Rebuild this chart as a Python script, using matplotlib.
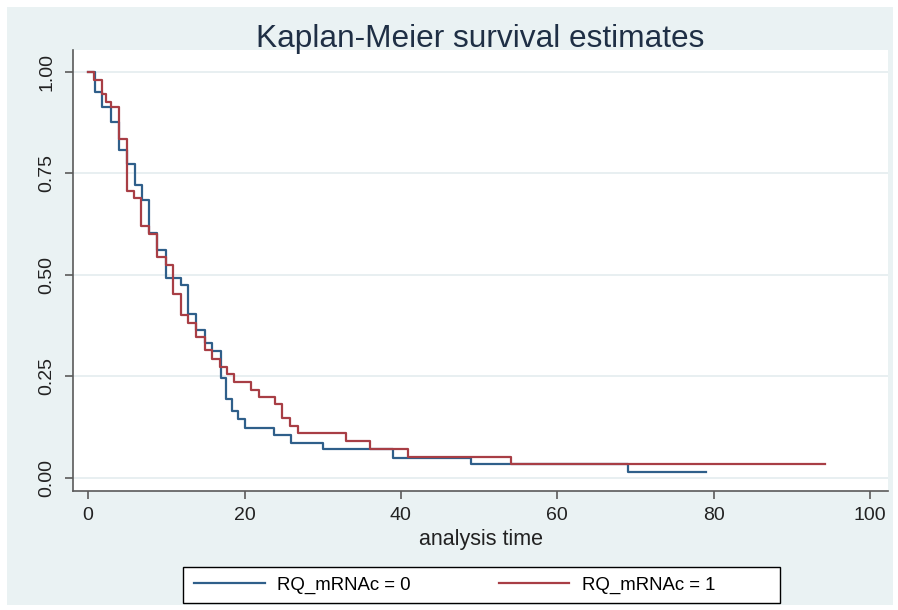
import matplotlib.pyplot as plt
from matplotlib.patches import Rectangle

# Kaplan-Meier step data
time_0 = [0, 0.9, 1.8, 2.9, 3.9, 5.0, 6.0, 6.9, 7.8, 8.8, 9.9, 11.9, 12.8, 13.8, 14.9,
          15.9, 17.0, 17.6, 18.4, 19.2, 20.0, 23.8, 26.0, 30.0, 39.0, 49.0, 69.0, 79.0]
surv_0 = [1.0, 0.949, 0.914, 0.875, 0.807, 0.773, 0.720, 0.684, 0.604, 0.561, 0.493, 0.476,
          0.403, 0.364, 0.333, 0.313, 0.247, 0.194, 0.165, 0.145, 0.124, 0.106, 0.087,
          0.071, 0.050, 0.034, 0.016, 0.016]

time_1 = [0, 0.8, 1.8, 2.3, 2.9, 3.9, 5.0, 5.9, 6.8, 7.8, 8.8, 9.9, 10.9, 11.9, 12.8, 13.8,
          14.9, 15.9, 16.9, 17.7, 18.6, 20.8, 21.9, 23.9, 24.8, 25.8, 26.8, 33.0, 36.0,
          40.9, 54.1, 94.2]
surv_1 = [1.0, 0.980, 0.945, 0.924, 0.912, 0.835, 0.707, 0.690, 0.621, 0.600, 0.545, 0.525,
          0.454, 0.401, 0.381, 0.347, 0.315, 0.292, 0.274, 0.257, 0.237, 0.217, 0.200,
          0.182, 0.147, 0.128, 0.110, 0.091, 0.071, 0.052, 0.035, 0.035]

group_labels = ['RQ_mRNAc = 0', 'RQ_mRNAc = 1']
x_ticks = [0, 20, 40, 60, 80, 100]
y_ticks = [0.0, 0.25, 0.5, 0.75, 1.0]
y_ticklabels = ['0.00', '0.25', '0.50', '0.75', '1.00']

plt.rcParams['font.family'] = ['Liberation Sans', 'DejaVu Sans']

bg = '#EAF2F3'
axis_col = '#5a5a5a'
W, H = 898, 610

fig = plt.figure(figsize=(8.98, 6.10), dpi=100, facecolor='white')
fig.patches.append(Rectangle((0.008, 0.008), 0.986, 0.980, transform=fig.transFigure,
                             facecolor=bg, edgecolor='none', zorder=-10))

ax = fig.add_axes([73.3 / W, (H - 490.7) / H, (888 - 73.3) / W, (490.7 - 50) / H])
ax.set_facecolor('white')

l0, = ax.step(time_0, surv_0, where='post', color='#2F5F8A', linewidth=1.6)
l1, = ax.step(time_1, surv_1, where='post', color='#A83E45', linewidth=1.6)

ax.set_xlim(-1.9, 102.3)
ax.set_ylim(-0.031, 1.053)
ax.set_xticks(x_ticks)
ax.set_yticks(y_ticks)
ax.set_yticklabels(y_ticklabels, rotation=90, va='center')
ax.grid(axis='y', color='#E6EEF0', linewidth=1.3)
ax.set_axisbelow(True)

for side in ['top', 'right']:
    ax.spines[side].set_visible(False)
for side in ['left', 'bottom']:
    ax.spines[side].set_color(axis_col)
    ax.spines[side].set_linewidth(1.2)
ax.tick_params(colors=axis_col, length=6, width=1.2, labelsize=14, labelcolor='#222222', pad=6)
ax.tick_params(axis='y', pad=7)

ax.set_xlabel('analysis time', fontsize=15.5, color='#222222', labelpad=3)
fig.suptitle('Kaplan-Meier survival estimates', fontsize=22.8, color='#1F2F45',
             x=480 / W, y=1 - 38.5 / H, va='center')

# legend box (Stata style: fixed-width columns, extra room on the right)
fig.patches.append(Rectangle((183 / W, 1 - 603 / H), (780 - 183) / W, 36 / H,
                             transform=fig.transFigure, facecolor='white',
                             edgecolor='black', linewidth=1.0, zorder=5))
leg = fig.legend([l0, l1], group_labels, loc='center left', ncol=2,
                 bbox_to_anchor=(179 / W, 1 - 585 / H), fontsize=13.4,
                 frameon=False, handlelength=3.8, columnspacing=4.75, borderpad=0.3,
                 handletextpad=0.65)
leg.set_zorder(6)

plt.savefig('out.png', dpi=100, facecolor=fig.get_facecolor())
